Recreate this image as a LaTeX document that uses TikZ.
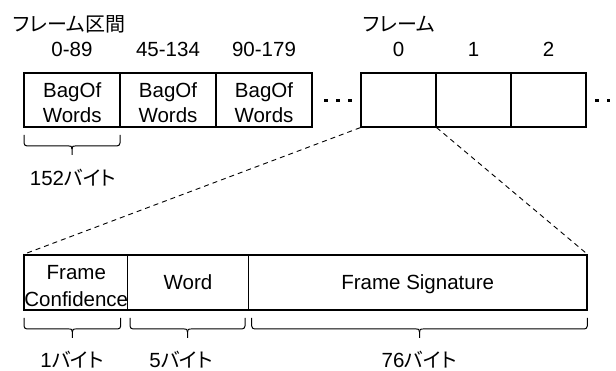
\documentclass[tikz,border=0pt]{standalone}
\usepackage{fontspec}
\setmainfont{Liberation Sans}
\newfontfamily\jpfont[RawFeature=+palt]{Noto Sans CJK JP}
\newcommand\jp[1]{{\jpfont\fontsize{20}{24}\selectfont #1}}
\newcommand\bytebrace[3]{% x1, x2, ytop
  \pgfmathsetmacro\bxm{(#1+#2)/2}%
  \pgfmathsetmacro\bxa{\bxm-3}%
  \pgfmathsetmacro\bxb{\bxm+3}%
  \pgfmathsetmacro\bxc{\bxm-0.6}%
  \pgfmathsetmacro\bxd{\bxm+0.6}%
  \pgfmathsetmacro\byh{#3+11}%
  \pgfmathsetmacro\byk{#3+14}%
  \pgfmathsetmacro\byt{#3+20}%
  \draw[bracepath] (#1,#3) -- (#1,\byh) -- (\bxa,\byh);
  \draw[bracepath] (#2,#3) -- (#2,\byh) -- (\bxb,\byh);
  \draw[bracetip] (\bxa,\byh) .. controls (\bxc,\byh) .. (\bxm,\byk) -- (\bxm,\byt);
  \draw[bracetip] (\bxb,\byh) .. controls (\bxd,\byh) .. (\bxm,\byk);
}
\begin{document}
\begin{tikzpicture}[x=1pt,y=-1pt,
  cell/.style={draw, line width=1.2pt, inner sep=0, minimum height=54pt},
  txt/.style={inner sep=0, align=center},
  lbl/.style={inner sep=0, anchor=base},
  dotsq/.style={fill, inner sep=0, minimum size=3.3pt},
  zoomline/.style={line width=0.9pt, dash pattern=on 5pt off 4pt},
  bracepath/.style={line width=1pt, rounded corners=3pt},
  bracetip/.style={line width=1pt}]
\useasboundingbox (0,0) rectangle (616,371);
\fontsize{20.5}{25}\selectfont
% headings
\node[lbl, anchor=base west] (h1) at (12.7,32) {\jp{フレーム区間}};
\node[lbl, anchor=base west] (h2) at (363,32) {\jp{フレーム}};
% ranges
\node[lbl] (r1) at (72,57) {0-89};
\node[lbl] (r2) at (168,57) {45-134};
\node[lbl] (r3) at (264,57) {90-179};
\node[lbl] (r4) at (398.5,57) {0};
\node[lbl] (r5) at (473.5,57) {1};
\node[lbl] (r6) at (548.5,57) {2};
% bag-of-words boxes
\node[cell, minimum width=96pt] (bw1) at (72,100) {};
\node[cell, minimum width=96pt] (bw2) at (168,100) {};
\node[cell, minimum width=96pt] (bw3) at (264,100) {};
\node[txt] (tw1) at (72.2,103) {BagOf\\Words};
\node[txt] (tw2) at (168,103) {BagOf\\Words};
\node[txt] (tw3) at (264,103) {BagOf\\Words};
% frame boxes
\node[cell, minimum width=75pt] (f0) at (398.5,100) {};
\node[cell, minimum width=75pt] (f1) at (473.5,100) {};
\node[cell, minimum width=75pt] (f2) at (548.5,100) {};
% dots
\node[dotsq] (d1) at (326,100.7) {};
\node[dotsq] (d2) at (338,100.7) {};
\node[dotsq] (d3) at (350,100.7) {};
\node[dotsq] (d4) at (597,100.7) {};
\node[dotsq] (d5) at (608.5,100.7) {};
\node[dotsq] (d6) at (620,100.7) {};
% brace under first box
\bytebrace{24}{120}{135}
\node[lbl] (b152) at (73,186) {152\jp{バイト}};
% detail row
\node[cell, minimum width=103.7pt, minimum height=55pt] (fc) at (75.85,282.5) {};
\node[cell, minimum width=120.6pt, minimum height=55pt] (wd) at (188,282.5) {};
\node[cell, minimum width=338.7pt, minimum height=55pt] (fs) at (417.65,282.5) {};
\node[txt, font=\fontsize{20.5}{27}\selectfont] (tfc) at (76.3,286) {Frame\\Confidence};
\node[lbl] (twd) at (188,290) {Word};
\node[lbl] (tfs) at (417.7,290) {Frame Signature};
% zoom lines
\draw[zoomline] (f0.south west) -- (fc.north west);
\draw[zoomline] (f0.south east) -- (fs.north east);
% braces under detail row
\bytebrace{24}{120.7}{318}
\bytebrace{130}{245}{318}
\bytebrace{251.7}{587.3}{318}
\node[lbl] (b1) at (72,367) {1\jp{バイト}};
\node[lbl] (b5) at (181,367) {5\jp{バイト}};
\node[lbl] (b76) at (419,367) {76\jp{バイト}};
\end{tikzpicture}
\end{document}
